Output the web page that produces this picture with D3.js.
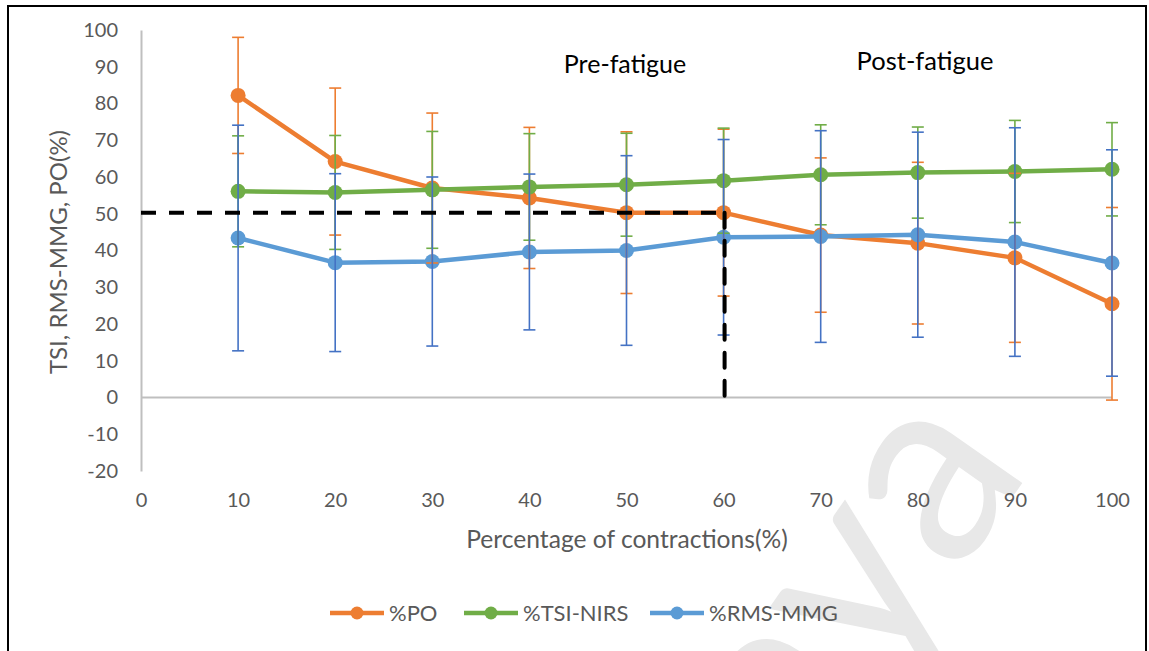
<!DOCTYPE html>
<html>
<head>
<meta charset="utf-8">
<script src="https://cdn.jsdelivr.net/npm/d3@7"></script>
<style>
  html, body { margin: 0; padding: 0; background: #ffffff; }
  svg { display: block; }
  text { font-family: Lato, "Noto Sans", sans-serif; }
</style>
</head>
<body>
<svg id="chart" width="1149" height="651"></svg>
<script>
// Percentage of contractions completed
const contractions = [10, 20, 30, 40, 50, 60, 70, 80, 90, 100];

// Power output (%), mean and SD
const poMean = [82.2, 64.2, 57.0, 54.3, 50.3, 50.3, 44.2, 42.0, 38.0, 25.5];
const poSD   = [15.8, 20.0, 20.4, 19.2, 22.0, 22.7, 21.0, 22.0, 23.0, 26.2];

// Tissue saturation index from NIRS (%), mean and SD
const tsiMean = [56.1, 55.8, 56.5, 57.3, 57.9, 59.0, 60.6, 61.2, 61.5, 62.1];
const tsiSD   = [15.1, 15.5, 15.9, 14.5, 14.0, 14.3, 13.6, 12.4, 13.9, 12.7];

// RMS of the mechanomyogram (%), mean and SD
const rmsMean = [43.4, 36.7, 37.0, 39.6, 40.0, 43.6, 43.8, 44.3, 42.3, 36.6];
const rmsSD   = [30.7, 24.2, 23.0, 21.2, 25.8, 26.6, 28.8, 27.9, 31.1, 30.8];

const xTicks = [0, 10, 20, 30, 40, 50, 60, 70, 80, 90, 100];
const yTicks = [-20, -10, 0, 10, 20, 30, 40, 50, 60, 70, 80, 90, 100];
const seriesNames = ["%PO", "%TSI-NIRS", "%RMS-MMG"];
const phaseLabels = ["Pre-fatigue", "Post-fatigue"];

// Fatigue threshold: PO falls to ~50% at 60% of contractions
const fatigueAt = 60;
const fatigueLevel = poMean[contractions.indexOf(fatigueAt)];

const series = [
  { name: seriesNames[0], mean: poMean,  sd: poSD,  line: "#ED7D31", bar: "#ED7D31" },
  { name: seriesNames[1], mean: tsiMean, sd: tsiSD, line: "#70AD47", bar: "#70AD47" },
  { name: seriesNames[2], mean: rmsMean, sd: rmsSD, line: "#5B9BD5", bar: "#4472C4" }
];

const svg = d3.select("#chart");

const x = d3.scaleLinear().domain([0, 100]).range([141, 1112]);
const y = d3.scaleLinear().domain([-20, 100]).range([471, 30]);
const plainNum = d => String(d);

// Background watermark
svg.append("text")
  .attr("transform", "translate(918,632) rotate(-55)")
  .attr("text-anchor", "middle")
  .attr("font-size", 268)
  .attr("fill", "#e8e8e8")
  .text("aya");

// Outer frame
svg.append("rect")
  .attr("x", 8).attr("y", 6)
  .attr("width", 1138).attr("height", 660)
  .attr("fill", "none").attr("stroke", "#000").attr("stroke-width", 2);

// Y axis (line + labels, no tick marks)
const yAxis = d3.axisLeft(y).tickValues(yTicks).tickFormat(plainNum).tickSize(0).tickPadding(23);
const gy = svg.append("g").attr("transform", `translate(${x(0)},0)`).call(yAxis);
gy.select(".domain").attr("stroke", "#BFBFBF").attr("stroke-width", 2);
gy.selectAll("text").attr("fill", "#595959").attr("font-size", 20)
  .attr("font-family", "Lato, 'Noto Sans', sans-serif");

// Zero line
svg.append("line")
  .attr("x1", x(0)).attr("x2", x(100))
  .attr("y1", y(0)).attr("y2", y(0))
  .attr("stroke", "#BFBFBF").attr("stroke-width", 2);

// X labels sit below the plot area
const xAxis = d3.axisBottom(x).tickValues(xTicks).tickFormat(plainNum).tickSize(0).tickPadding(22);
const gx = svg.append("g").attr("transform", `translate(0,${y(-20)})`).call(xAxis);
gx.select(".domain").remove();
gx.selectAll("text").attr("fill", "#595959").attr("font-size", 20)
  .attr("font-family", "Lato, 'Noto Sans', sans-serif");

// Axis titles
svg.append("text")
  .attr("x", 627).attr("y", 548)
  .attr("text-anchor", "middle")
  .attr("font-size", 24.6).attr("fill", "#595959")
  .text("Percentage of contractions(%)");

svg.append("text")
  .attr("transform", "translate(67,252) rotate(-90)")
  .attr("text-anchor", "middle")
  .attr("font-size", 24).attr("fill", "#595959")
  .text("TSI, RMS-MMG, PO(%)");

// Phase annotations
svg.append("text").attr("x", 625).attr("y", 73).attr("text-anchor", "middle")
  .attr("font-size", 25).attr("fill", "#000").text(phaseLabels[0]);
svg.append("text").attr("x", 925).attr("y", 70).attr("text-anchor", "middle")
  .attr("font-size", 25.5).attr("fill", "#000").text(phaseLabels[1]);

// Series lines and markers
const lineGen = d3.line().x(d => x(d.x)).y(d => y(d.m));
series.forEach(s => {
  const pts = contractions.map((c, i) => ({ x: c, m: s.mean[i], sd: s.sd[i] }));
  s.pts = pts;
  svg.append("path").datum(pts)
    .attr("d", lineGen)
    .attr("fill", "none")
    .attr("stroke", s.line)
    .attr("stroke-width", 4.5)
    .attr("stroke-linejoin", "round");
  svg.append("g").selectAll("circle").data(pts).join("circle")
    .attr("cx", d => x(d.x)).attr("cy", d => y(d.m))
    .attr("r", 7.5).attr("fill", s.line);
});

// Error bars (±SD) drawn above all markers
series.forEach(s => {
  const g = svg.append("g").attr("stroke", s.bar).attr("stroke-width", 1.6).attr("fill", "none");
  s.pts.forEach(d => {
    const cx = x(d.x), top = y(d.m + d.sd), bot = y(d.m - d.sd);
    g.append("line").attr("x1", cx).attr("x2", cx).attr("y1", top).attr("y2", bot);
    g.append("line").attr("x1", cx - 6).attr("x2", cx + 6).attr("y1", top).attr("y2", top);
    g.append("line").attr("x1", cx - 6).attr("x2", cx + 6).attr("y1", bot).attr("y2", bot);
  });
});

// Dashed fatigue guides
svg.append("line")
  .attr("x1", x(0)).attr("x2", x(fatigueAt))
  .attr("y1", y(fatigueLevel)).attr("y2", y(fatigueLevel))
  .attr("stroke", "#000").attr("stroke-width", 4)
  .attr("stroke-dasharray", "15,13");
svg.append("line")
  .attr("x1", x(fatigueAt) + 1).attr("x2", x(fatigueAt) + 1)
  .attr("y1", y(fatigueLevel)).attr("y2", y(0))
  .attr("stroke", "#000").attr("stroke-width", 4)
  .attr("stroke-dasharray", "15,13")
  .attr("stroke-linecap", "round");

// Legend
const legendY = 613;
const legendX = [330, 464, 650];
series.forEach((s, i) => {
  const lx = legendX[i];
  svg.append("line").attr("x1", lx).attr("x2", lx + 54)
    .attr("y1", legendY).attr("y2", legendY)
    .attr("stroke", s.line).attr("stroke-width", 4.5);
  svg.append("circle").attr("cx", lx + 27).attr("cy", legendY).attr("r", 6.5).attr("fill", s.line);
  svg.append("text").attr("x", lx + 59).attr("y", legendY + 8)
    .attr("font-size", 22).attr("fill", "#595959").text(s.name);
});
</script>
</body>
</html>
